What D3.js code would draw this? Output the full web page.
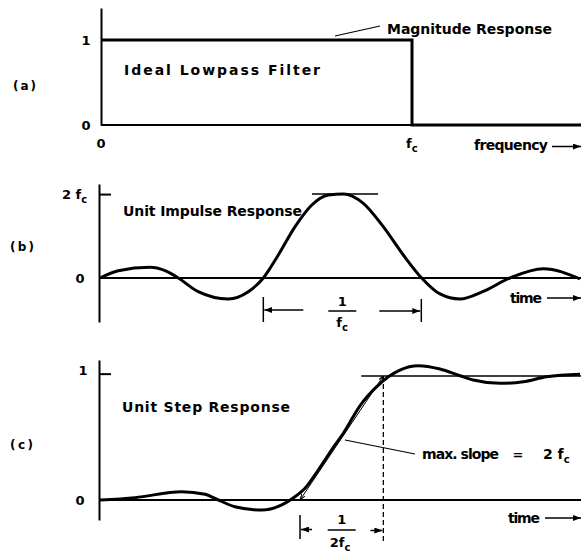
<!DOCTYPE html>
<html><head><meta charset="utf-8">
<script src="https://cdn.jsdelivr.net/npm/d3@7"></script>
<style>
body{margin:0;background:#fff}
text{font-family:"DejaVu Sans",sans-serif;font-weight:bold;fill:#000}
</style></head><body>
<svg id="c" width="581" height="552"></svg>
<script>
// ---------- data ----------
// (a) ideal lowpass magnitude response (frequency in units of fc)
const freq = [0, 1, 1, 1.545];
const magnitude = [1, 1, 0, 0];
// (b) unit impulse response (time in units of 1/fc, value in units of 2fc)
const impulseTime = [0.006,0.122,0.323,0.418,0.502,0.628,0.818,0.945,1.04,1.135,1.241,1.347,1.452,1.547,1.673,1.799,1.926,2.042,2.158,2.285,2.432,2.601,2.812,3.044];
const impulseValue = [0,0.087,0.127,0.087,0,-0.163,-0.25,-0.163,0,0.274,0.611,0.869,0.988,1.0,0.889,0.611,0.274,0,-0.19,-0.25,-0.16,0,0.11,-0.01];
const impulsePeakLine = [1.348, 1.766];
const impulseBracket = [1.04, 2.04];
// (c) unit step response
const stepTime = [0.006,0.217,0.498,0.639,0.709,0.819,0.98,1.101,1.161,1.241,1.321,1.422,1.472,1.572,1.673,1.743,1.813,1.923,2.054,2.175,2.255,2.416,2.556,2.697,2.898];
const stepValue = [0,0.019,0.067,0.046,0.006,-0.054,-0.081,-0.04,0.008,0.094,0.242,0.444,0.538,0.76,0.914,0.994,1.048,1.083,1.056,1.002,0.968,0.941,0.954,0.994,1.014];
const stepLevelLine = [1.58, 2.904];
const tangentTime = [1.211, 1.713];
const tangentValue = [0, 1];
const stepBracket = [1.211, 1.713];
// tick labels
const ticksA = [{v:1,t:"1"},{v:0,t:"0"}];
const ticksAx = [{v:0,t:"0"},{v:1,t:"f",sub:"c"}];
const ticksB = [{v:1,t:"2 f",sub:"c"},{v:0,t:"0"}];
const ticksC = [{v:1,t:"1"},{v:0,t:"0"}];

// ---------- setup ----------
const svg = d3.select("#c");
const defs = svg.append("defs");
defs.append("marker").attr("id","ah").attr("viewBox","0 0 8 6")
  .attr("refX",8).attr("refY",3).attr("markerWidth",8).attr("markerHeight",6)
  .attr("markerUnits","userSpaceOnUse").attr("orient","auto-start-reverse")
  .append("path").attr("d","M0,0L8,3L0,6Z").attr("fill","#000");
defs.append("marker").attr("id","ahs").attr("viewBox","0 0 6 4")
  .attr("refX",6).attr("refY",2).attr("markerWidth",6).attr("markerHeight",4)
  .attr("markerUnits","userSpaceOnUse").attr("orient","auto-start-reverse")
  .append("path").attr("d","M0,0L6,2L0,4").attr("fill","none").attr("stroke","#000").attr("stroke-width",1);

function line(x1,y1,x2,y2,w,extra){
  const l = svg.append("line").attr("x1",x1).attr("y1",y1).attr("x2",x2).attr("y2",y2)
    .attr("stroke","#000").attr("stroke-width",w||1.5);
  if(extra) extra(l);
  return l;
}
function txt(x,y,s,opt){
  opt = opt||{};
  const t = svg.append("text").attr("x",x).attr("y",y)
    .attr("font-size",opt.size||13).attr("text-anchor",opt.anchor||"start");
  t.append("tspan").text(s);
  if(opt.sub) t.append("tspan").attr("font-size",10).attr("dy",4).text(opt.sub);
  if(opt.len){ t.attr("textLength",opt.len).attr("lengthAdjust","spacing"); }
  return t;
}
function arrowTo(x1,y1,x2,y2,w){
  line(x1,y1,x2,y2,w||1.5,l=>l.attr("marker-end","url(#ah)"));
}
const smooth = d3.curveMonotoneX;

// ---------- panel (a) ----------
const xA = d3.scaleLinear().domain([0,1]).range([101,412]);
const yA = d3.scaleLinear().domain([0,1]).range([125,40]);
svg.append("g").attr("transform",`translate(${xA(0)},0)`)
  .call(d3.axisRight(yA.copy().domain([0,1.38]).range([125,8])).tickValues([]).tickSizeOuter(0))
  .select(".domain").attr("stroke-width",2);
line(xA(0),yA(0),xA(1),yA(0),2);
svg.append("path")
  .datum(freq.map((f,i)=>[f,magnitude[i]]))
  .attr("d",d3.line().x(d=>xA(d[0])).y(d=>yA(d[1])).curve(d3.curveLinear))
  .attr("fill","none").attr("stroke","#000").attr("stroke-width",3).attr("stroke-linejoin","miter");
ticksA.forEach(d=>txt(86,yA(d.v)+5,d.t,{anchor:"middle"}));
ticksAx.forEach(d=>txt(xA(d.v)-(d.sub?6:0),148,d.t,{anchor:d.sub?"start":"middle",sub:d.sub}));
txt(13,90,"(a)",{size:12,len:23});
txt(124,75,"Ideal  Lowpass  Filter",{len:196,size:14});
txt(387,34,"Magnitude  Response",{len:165,size:14});
line(335,36,380,26,1.2);
txt(474,150,"frequency",{len:74,size:14});
arrowTo(552,146.5,581,146.5,1.5);

// ---------- panel (b) ----------
const xB = d3.scaleLinear().domain([0,1]).range([99,257]);
const yB = d3.scaleLinear().domain([0,1]).range([278,194]);
const axB = svg.append("g").attr("transform",`translate(${xB(0)},0)`)
  .call(d3.axisRight(yB.copy().domain([-0.524,1.12]).range([322,184])).tickValues([1]).tickSize(12).tickSizeOuter(0).tickFormat(""));
axB.selectAll("path,line").attr("stroke-width",2);
line(xB(0),yB(0),581,yB(0),2);
line(xB(impulsePeakLine[0]),yB(1),xB(impulsePeakLine[1]),yB(1),1.5);
svg.append("path")
  .datum(impulseTime.map((t,i)=>[t,impulseValue[i]]))
  .attr("d",d3.line().x(d=>xB(d[0])).y(d=>yB(d[1])).curve(smooth))
  .attr("fill","none").attr("stroke","#000").attr("stroke-width",3);
txt(62,yB(1)+5,"2 f",{sub:"c"});
txt(80,yB(0)+5,"0",{anchor:"middle"});
txt(10,251,"(b)",{size:12,len:24});
txt(123,216,"Unit  Impulse  Response",{len:179,size:14});
txt(510,303,"time",{len:32,size:14});
arrowTo(547,298,581,298,1.5);
{
  const bl = xB(impulseBracket[0]), br = xB(impulseBracket[1]), cx=(bl+br)/2;
  line(bl,297,bl,322,1.5); line(br,299,br,322,1.5);
  arrowTo(cx-39,310,bl+1,310,1.5);
  arrowTo(cx+37,311,br-1,311,1.5);
  txt(cx,306,"1",{anchor:"middle"});
  line(cx-14,311,cx+14,311,1.5);
  txt(cx-6,327,"f",{sub:"c"});
}

// ---------- panel (c) ----------
const xC = d3.scaleLinear().domain([0,1]).range([99,265]);
const yC = d3.scaleLinear().domain([0,1]).range([500,376]);
const axC = svg.append("g").attr("transform",`translate(${xC(0)},0)`)
  .call(d3.axisRight(yC.copy().domain([-0.16,1.13]).range([520,360])).tickValues([1.02]).tickSize(12).tickSizeOuter(0).tickFormat(""));
axC.selectAll("path,line").attr("stroke-width",2);
line(xC(0),yC(0),581,yC(0),2);
line(xC(stepLevelLine[0]),yC(1),xC(stepLevelLine[1]),yC(1),1.5);
line(xC(stepBracket[1]),yC(1),xC(stepBracket[1]),541,1.3,l=>l.attr("stroke-dasharray","5,3"));
line(xC(tangentTime[0]),yC(tangentValue[0]),xC(tangentTime[1]),yC(tangentValue[1]),1,
  l=>l.attr("marker-start","url(#ahs)").attr("marker-end","url(#ahs)"));
svg.append("path")
  .datum(stepTime.map((t,i)=>[t,stepValue[i]]))
  .attr("d",d3.line().x(d=>xC(d[0])).y(d=>yC(d[1])).curve(smooth))
  .attr("fill","none").attr("stroke","#000").attr("stroke-width",3);
txt(83,yC(1)-1,"1",{anchor:"middle"});
txt(80,yC(0)+5,"0",{anchor:"middle"});
txt(10,449,"(c)",{size:12,len:23});
txt(122,412,"Unit  Step  Response",{len:168,size:14});
line(345,440,415,454,1.2);
txt(422,459,"max. slope",{len:77,size:14});
txt(518,459,"=",{anchor:"middle"});
txt(543,459,"2 f",{sub:"c",size:14});
txt(508,523,"time",{len:32,size:14});
arrowTo(545,518,581,518,1.5);
{
  const bl = xC(stepBracket[0]), br = xC(stepBracket[1]), cx=(bl+br)/2;
  line(bl,515,bl,539,1.5);
  arrowTo(bl+12,529.5,bl+1,529.5,1.5);
  arrowTo(br-13,530.5,br-1,530.5,1.5);
  txt(cx,524,"1",{anchor:"middle"});
  line(cx-14,530,cx+14,530,1.5);
  txt(cx-12,547,"2f",{sub:"c"});
}
</script></body></html>
